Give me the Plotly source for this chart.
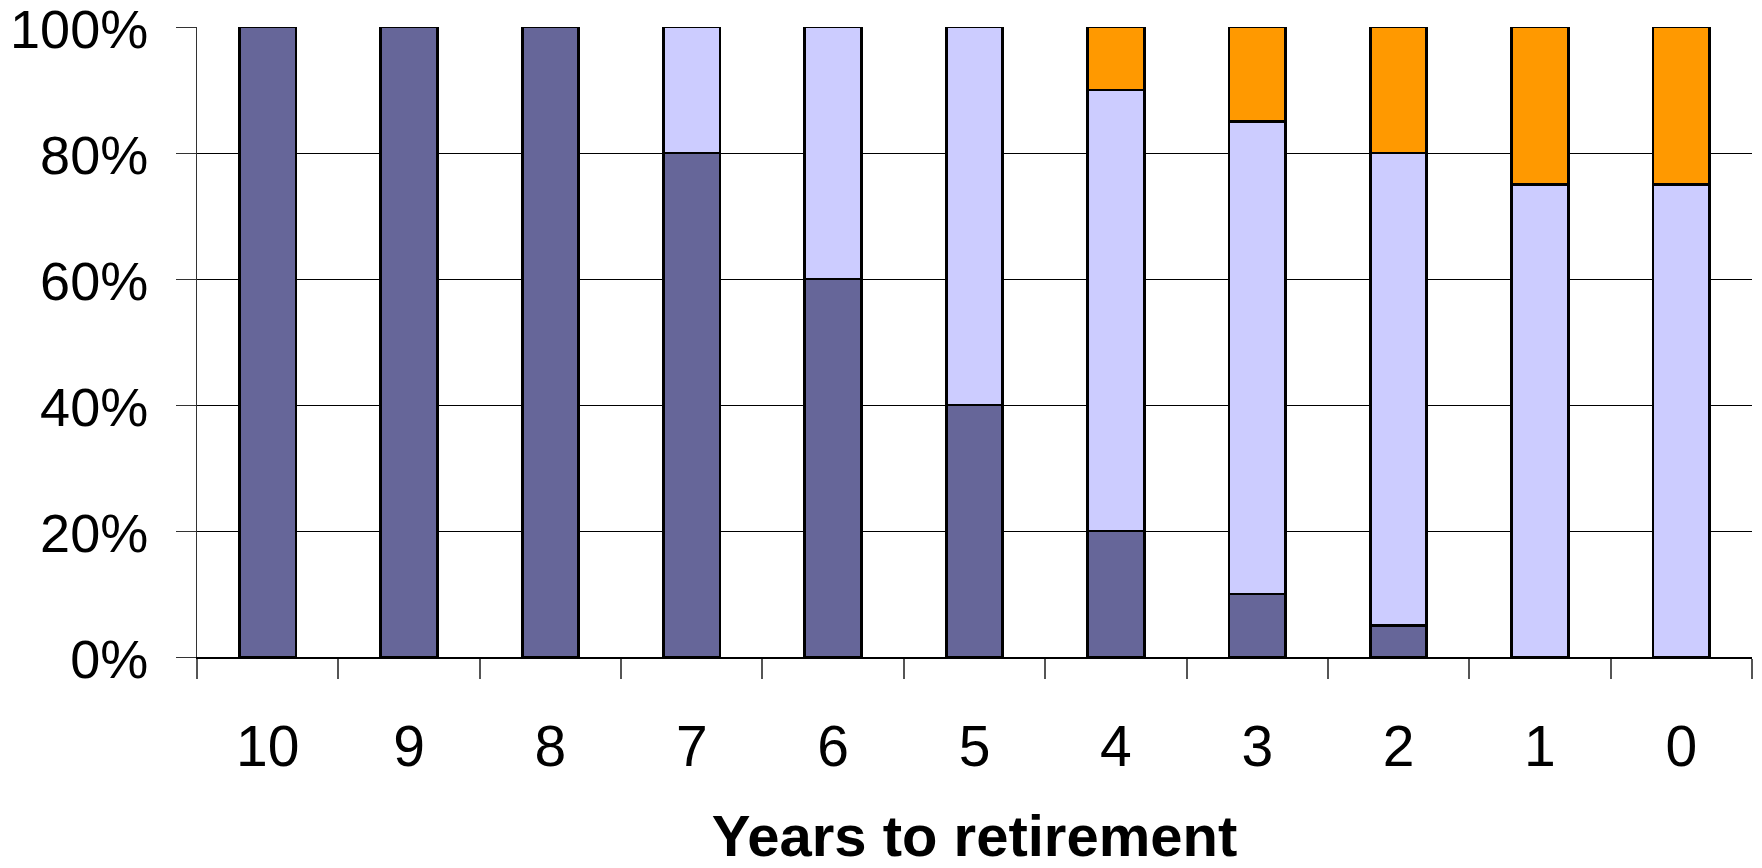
import plotly.graph_objects as go

years = ["10", "9", "8", "7", "6", "5", "4", "3", "2", "1", "0"]
dark_share = [100, 100, 100, 80, 60, 40, 20, 10, 5, 0, 0]
light_share = [0, 0, 0, 20, 40, 60, 70, 75, 75, 75, 75]
orange_share = [0, 0, 0, 0, 0, 0, 10, 15, 20, 25, 25]

series = [
    ("Series 1", dark_share, "#666699"),
    ("Series 2", light_share, "#CCCCFF"),
    ("Series 3", orange_share, "#FF9900"),
]

fig = go.Figure()
for name, vals, col in series:
    fig.add_trace(go.Bar(
        x=years, y=vals, name=name,
        marker=dict(color=col, line=dict(color="black", width=2.8)),
        width=0.4,
    ))

font_family = "Liberation Sans, Arial, sans-serif"
fig.update_layout(
    barmode="stack",
    width=1762, height=868,
    margin=dict(l=197, r=10, t=27, b=211, autoexpand=False),
    plot_bgcolor="white", paper_bgcolor="white",
    showlegend=False,
    font=dict(family=font_family, color="black"),
)
fig.update_xaxes(
    type="category",
    showline=True, linecolor="black", linewidth=1.5,
    ticks="outside", ticklen=20, tickcolor="#555555", tickwidth=1.5,
    tickson="boundaries",
    showgrid=False,
    tickfont=dict(size=57, family=font_family),
    ticklabelstandoff=39,
    ticklabeloverflow="allow",
    title=dict(text="<b>Years to retirement</b>",
               font=dict(size=58, family=font_family), standoff=42),
)
fig.update_yaxes(
    range=[0, 100],
    tickvals=[0, 20, 40, 60, 80, 100],
    ticktext=["0%", "20%", "40%", "60%", "80%", "100%"],
    showgrid=True, gridcolor="black", gridwidth=1,
    showline=True, linecolor="#333333", linewidth=1,
    ticks="outside", ticklen=20, tickcolor="#333333",
    tickfont=dict(size=54, family=font_family),
    ticklabelstandoff=17,
    ticklabelshift=2,
    ticklabeloverflow="allow",
    zeroline=False,
)
fig.write_html("out.html", config={"displayModeBar": False},
               post_script="document.body.style.margin='0px';")
